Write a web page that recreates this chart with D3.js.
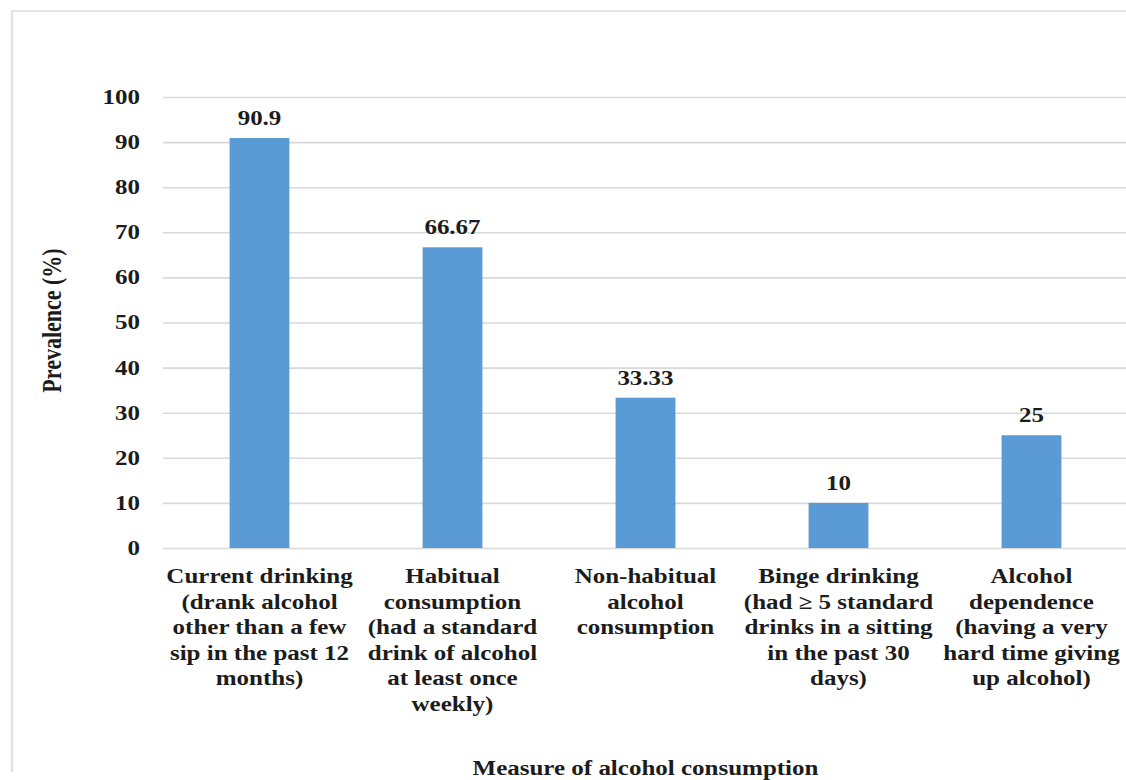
<!DOCTYPE html>
<html>
<head>
<meta charset="utf-8">
<script src="https://cdn.jsdelivr.net/npm/d3@7"></script>
<style>
  html, body { margin: 0; padding: 0; background: #fff; }
  svg { display: block; }
  text { font-family: 'Liberation Serif', 'Times New Roman', serif; font-weight: bold; fill: #1c1c1c; }
</style>
</head>
<body>
<svg id="chart" width="1126" height="780"></svg>
<script>
// ---- data ----
const categories = [
  "Current drinking",
  "Habitual consumption",
  "Non-habitual alcohol consumption",
  "Binge drinking",
  "Alcohol dependence"
];
const categoryLabelLines = [
  ["Current drinking", "(drank alcohol", "other than a few", "sip in the past 12", "months)"],
  ["Habitual", "consumption", "(had a standard", "drink of alcohol", "at least once", "weekly)"],
  ["Non-habitual", "alcohol", "consumption"],
  ["Binge drinking", "(had \u2265 5 standard", "drinks in a sitting", "in the past 30", "days)"],
  ["Alcohol", "dependence", "(having a very", "hard time giving", "up alcohol)"]
];
const prevalence = [90.9, 66.67, 33.33, 10, 25];
const valueLabels = ["90.9", "66.67", "33.33", "10", "25"];
const yTicks = [0, 10, 20, 30, 40, 50, 60, 70, 80, 90, 100];
const yTitle = "Prevalence (%)";
const xTitle = "Measure of alcohol consumption";

// ---- layout (the reference image is stretched horizontally) ----
const SX = 1.25;
const W = 1126 / SX;
const plotLeft = 163 / SX, plotRight = 1128 / SX;
const plotTop = 97, plotBottom = 548;

const svg = d3.select("#chart");
const g = svg.append("g").attr("transform", `scale(${SX},1)`);

// outer frame (left and top edges visible)
g.append("path")
  .attr("d", `M${12 / SX},772 V11 H${W + 10}`)
  .attr("fill", "none").attr("stroke", "#e4e4e4").attr("stroke-width", 2);

const x = d3.scaleBand()
  .domain(categories)
  .range([plotLeft, plotRight])
  .paddingInner(0.69)
  .paddingOuter(0.345);

const y = d3.scaleLinear().domain([0, 100]).range([plotBottom, plotTop]);

// y axis with gridlines
const yAxis = d3.axisLeft(y)
  .tickValues(yTicks)
  .tickFormat(d3.format("d"))
  .tickSize(-(W - plotLeft))
  .tickPadding(18.4);

const ya = g.append("g")
  .attr("transform", `translate(${plotLeft},0)`)
  .call(yAxis);
ya.select(".domain").remove();
ya.selectAll(".tick line").attr("stroke", "#d9d9d9").attr("stroke-width", 1.6);
ya.selectAll(".tick text")
  .attr("font-size", 20)
  .style("font-family", "'Liberation Serif', 'Times New Roman', serif")
  .style("font-weight", "bold")
  .attr("fill", "#1c1c1c");

// bars
g.append("g").selectAll("rect")
  .data(categories)
  .join("rect")
  .attr("x", d => x(d))
  .attr("width", x.bandwidth())
  .attr("y", (d, i) => y(prevalence[i]))
  .attr("height", (d, i) => y(0) - y(prevalence[i]))
  .attr("fill", "#5b9bd5");

// value labels
g.append("g").selectAll("text")
  .data(categories)
  .join("text")
  .attr("x", d => x(d) + x.bandwidth() / 2)
  .attr("y", (d, i) => y(prevalence[i]) - 13)
  .attr("text-anchor", "middle")
  .attr("font-size", 20)
  .text((d, i) => valueLabels[i]);

// category labels
const cl = g.append("g").selectAll("text")
  .data(categories)
  .join("text")
  .attr("text-anchor", "middle")
  .attr("font-size", 20);
cl.each(function (d, i) {
  const t = d3.select(this);
  categoryLabelLines[i].forEach((line, j) => {
    t.append("tspan")
      .attr("x", x(d) + x.bandwidth() / 2)
      .attr("y", 583 + j * 25.6)
      .text(line);
  });
});

// axis titles
g.append("text")
  .attr("transform", `translate(${61 / SX},${(plotTop + plotBottom) / 2 - 2}) rotate(-90)`)
  .attr("text-anchor", "middle")
  .attr("font-size", 22)
  .text(yTitle);

g.append("text")
  .attr("x", (plotLeft + plotRight) / 2)
  .attr("y", 775)
  .attr("text-anchor", "middle")
  .attr("font-size", 20)
  .text(xTitle);
</script>
</body>
</html>
